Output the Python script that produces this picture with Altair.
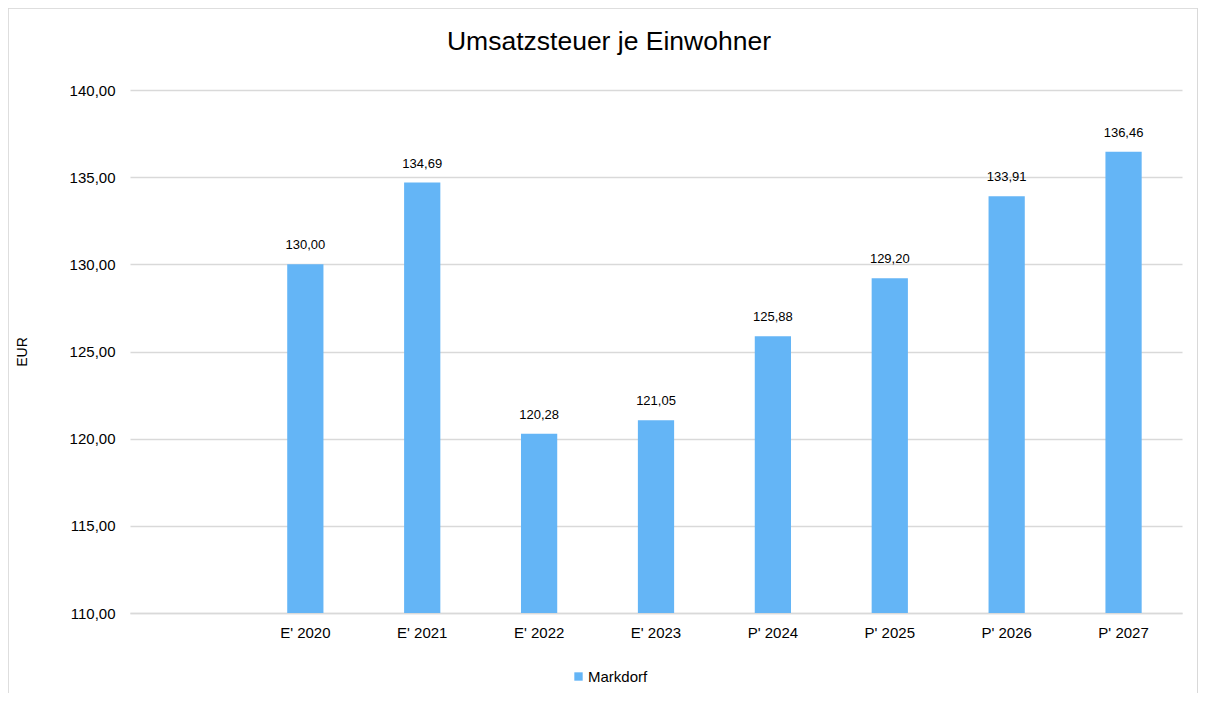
import altair as alt
import pandas as pd

categories = ["", "E' 2020", "E' 2021", "E' 2022", "E' 2023", "P' 2024", "P' 2025", "P' 2026", "P' 2027"]
bar_categories = ["E' 2020", "E' 2021", "E' 2022", "E' 2023", "P' 2024", "P' 2025", "P' 2026", "P' 2027"]
values = [130.00, 134.69, 120.28, 121.05, 125.88, 129.20, 133.91, 136.46]
series_name = "Markdorf"
y_ticks = [110, 115, 120, 125, 130, 135, 140]

df = pd.DataFrame({"cat": bar_categories, "val": values, "series": [series_name] * len(values)})

FONT = "Liberation Sans"
GRID = "#D9D9D9"
BAR = "#64B5F6"
W, H = 1052, 523

x_enc = alt.X("cat:N", sort=categories,
              scale=alt.Scale(domain=categories, paddingInner=0.69, paddingOuter=0.345),
              axis=alt.Axis(title=None, labelAngle=0, ticks=False, domainColor=GRID, domainWidth=1.5,
                            labelPadding=12, labelFontSize=15, labelColor="#000000", labelFont=FONT))
y_enc = alt.Y("val:Q",
              scale=alt.Scale(domain=[110, 140], nice=False, zero=False),
              axis=alt.Axis(title="EUR", values=y_ticks, ticks=False, domain=False,
                            gridColor=GRID, gridWidth=1.5,
                            labelExpr="replace(format(datum.value, '.2f'), '.', ',')",
                            labelPadding=15, labelFontSize=15, labelColor="#000000", labelFont=FONT,
                            titleFontSize=14, titleFont=FONT, titleFontWeight="normal", titleColor="#000000",
                            titleX=-108, titleY=H / 2, titleAngle=-90, titleAlign="center", titleBaseline="middle"))

bars = alt.Chart(df).mark_bar(clip=True).encode(
    x=x_enc,
    y=y_enc,
    color=alt.Color("series:N", scale=alt.Scale(range=[BAR]),
                    legend=alt.Legend(title=None, orient="none", legendX=441, legendY=579,
                                      symbolType="square", symbolSize=70, symbolStrokeWidth=0,
                                      labelFontSize=15, labelFont=FONT, labelColor="#000000",
                                      labelOffset=2, padding=0)),
)

labels = alt.Chart(df).transform_calculate(
    lbl="replace(format(datum.val, '.2f'), '.', ',')"
).mark_text(baseline="bottom", dy=-12, fontSize=13, font=FONT, color="#000000").encode(
    x=alt.X("cat:N", sort=categories),
    y="val:Q",
    text="lbl:N",
)

frame = alt.Chart(df).mark_rect(fill=None, stroke=GRID, strokeWidth=1.5).encode(
    x=alt.value(-122.5), x2=alt.value(1068), y=alt.value(-82.5), y2=alt.value(700)
)

chart = alt.layer(frame, bars, labels).properties(
    width=W, height=H,
    padding={"left": 122, "top": 82, "right": 16, "bottom": 80},
    autosize=alt.AutoSizeParams(type="none"),
    title=alt.TitleParams("Umsatzsteuer je Einwohner", fontSize=26.5, font=FONT, fontWeight="normal",
                          color="#000000", anchor="middle", offset=-49, dx=-47),
).configure_view(stroke=None)

chart.save("out.html", embed_options={"renderer": "svg", "actions": False})
